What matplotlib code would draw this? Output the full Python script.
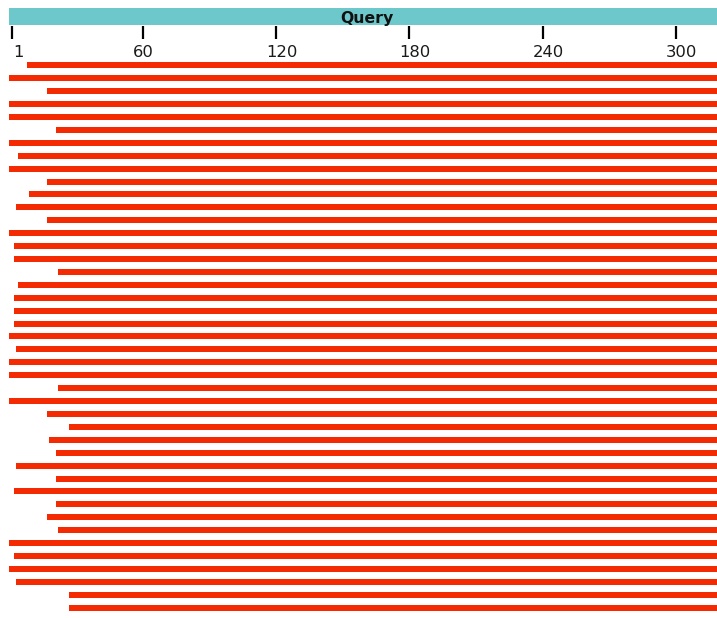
import matplotlib
matplotlib.use("Agg")
import matplotlib.pyplot as plt

# Query length (residues) and ruler
query_length = 322
tick_values = [1, 60, 120, 180, 240, 300]
tick_labels = ["1", "60", "120", "180", "240", "300"]

# Hit alignments, top to bottom: start / end residue on the query
hit_starts = [9, 1, 18, 1, 1, 22, 1, 5, 1, 18,
              10, 4, 18, 1, 3, 3, 23, 5, 3, 3,
              3, 1, 4, 1, 1, 23, 1, 18, 28, 19,
              22, 4, 22, 3, 22, 18, 23, 1, 3, 1,
              4, 28, 28]
hit_ends = [322, 322, 322, 322, 322, 322, 322, 322, 322, 322,
            322, 322, 322, 322, 322, 322, 322, 322, 322, 322,
            322, 322, 322, 322, 322, 322, 322, 322, 322, 322,
            322, 322, 322, 322, 322, 322, 322, 322, 322, 322,
            322, 322, 322]

FIG_W, FIG_H, DPI = 717, 618, 100
PX_PER_RES = 2.222      # horizontal scale
X0 = 9.3                # pixel where residue 0 sits
ROW0, ROW_PITCH = 65.3, 12.914

BAR_RED = "#f42a02"
QUERY_TEAL = "#6cc8cb"

fig = plt.figure(figsize=(FIG_W / DPI, FIG_H / DPI), dpi=DPI)
xlim = (-X0 / PX_PER_RES, (FIG_W - X0) / PX_PER_RES)

# Hit bars, one row each
ax = fig.add_axes([0, 0, 1, 1])
ax.set_xlim(*xlim)
ax.set_ylim((FIG_H - ROW0) / ROW_PITCH, -ROW0 / ROW_PITCH)
ax.axis("off")
rows = list(range(len(hit_starts)))
lefts = [s - 1 for s in hit_starts]
widths = [e - s + 1 for s, e in zip(hit_starts, hit_ends)]
ax.barh(rows, widths, left=lefts, height=0.465, color=BAR_RED, linewidth=0)

# Header: query bar and ruler (y in pixels from top)
hdr = fig.add_axes([0, 0, 1, 1])
hdr.set_xlim(*xlim)
hdr.set_ylim(FIG_H, 0)
hdr.axis("off")
hdr.patch.set_alpha(0)
hdr.barh(16.5, query_length, left=0, height=17, color=QUERY_TEAL, linewidth=0)
hdr.text(query_length / 2, 23.3, "Query", ha="center", va="baseline",
         fontsize=11.3, fontweight="bold", color="#111111")
hdr.vlines(tick_values, 26, 39, color="black", linewidth=1.6)
for i, (v, lab) in enumerate(zip(tick_values, tick_labels)):
    dx = 1.5 if i == 0 else -10
    hdr.annotate(lab, (v, 56.7), xytext=(dx, 0), textcoords="offset pixels",
                 ha="left", va="baseline", fontsize=11.8, color="#1a1a1a")

fig.savefig("out.png", dpi=DPI)
